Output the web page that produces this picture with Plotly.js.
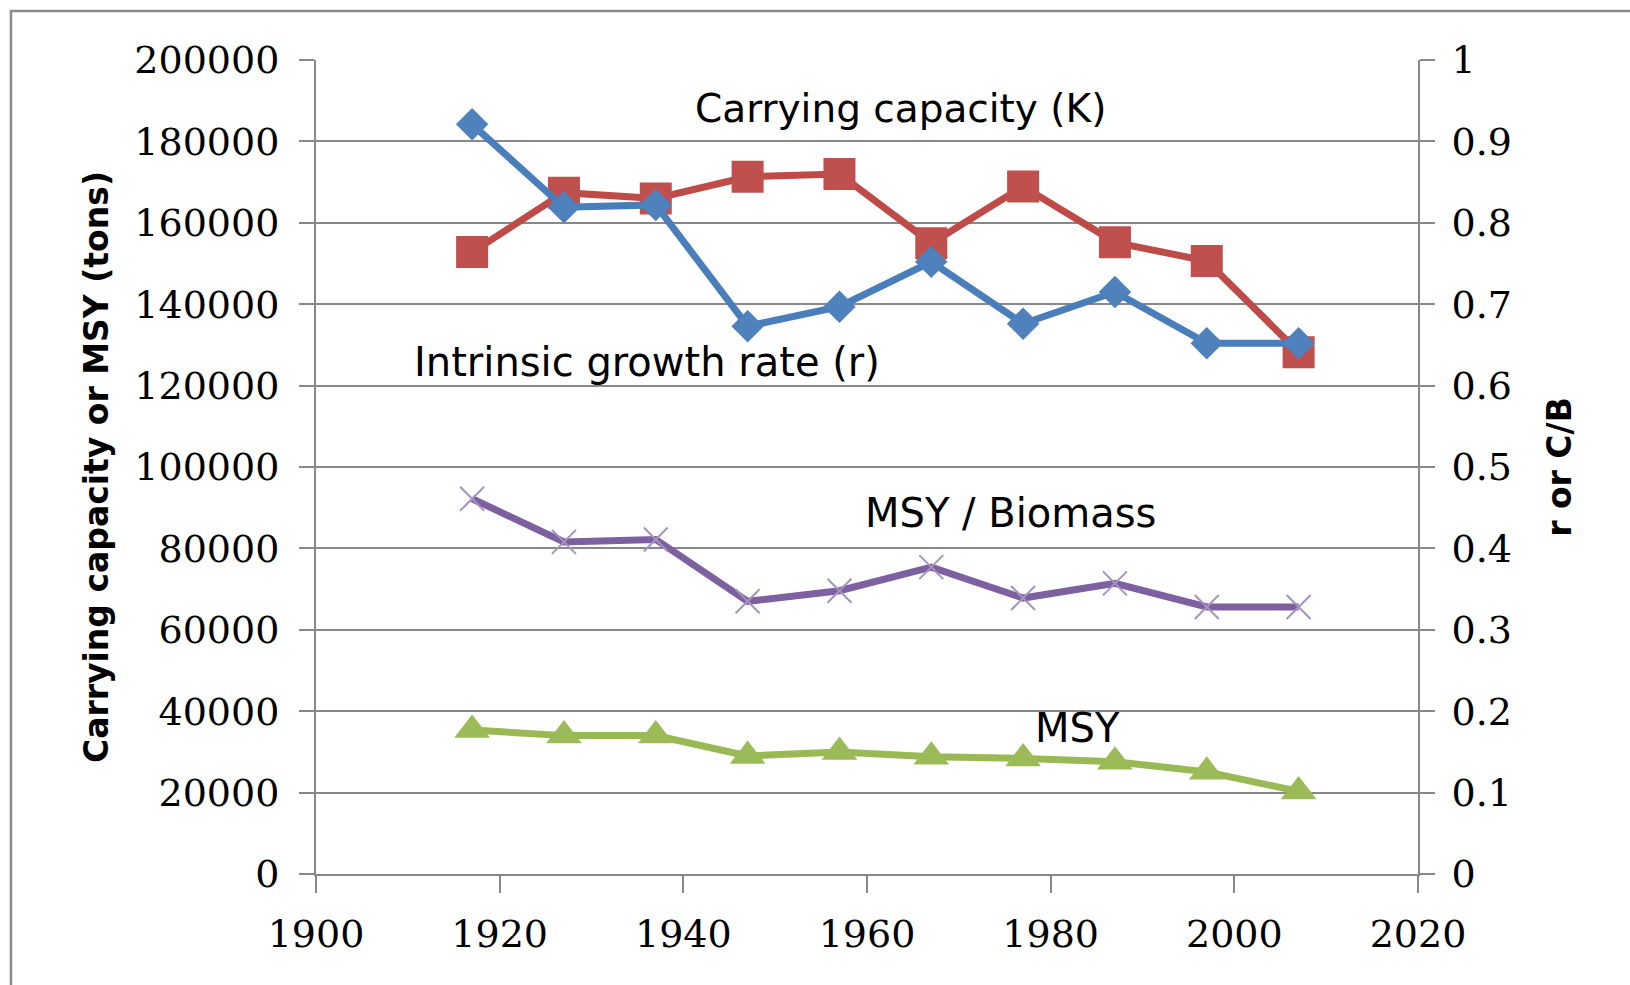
<!DOCTYPE html>
<html>
<head>
<meta charset="utf-8">
<script src="https://cdn.plot.ly/plotly-3.0.1.min.js"></script>
<style>
  html, body { margin: 0; padding: 0; background: #ffffff; }
  #chart { width: 1630px; height: 985px; }
</style>
</head>
<body>
<div id="chart"></div>
<script>
// ---- Data ----
const years = [1917, 1927, 1937, 1947, 1957, 1967, 1977, 1987, 1997, 2007];
const carryingCapacityK = [152800, 167400, 166000, 171300, 172000, 155000, 168900, 155200, 150600, 128200];
const intrinsicGrowthR = [0.921, 0.819, 0.822, 0.673, 0.697, 0.752, 0.676, 0.715, 0.652, 0.652];
const msyPerBiomass = [0.461, 0.408, 0.411, 0.335, 0.348, 0.377, 0.339, 0.357, 0.328, 0.328];
const msyTons = [35400, 34000, 34000, 29000, 30000, 28800, 28400, 27600, 25100, 20300];

const xTicks = [1900, 1920, 1940, 1960, 1980, 2000, 2020];
const leftTicks = [0, 20000, 40000, 60000, 80000, 100000, 120000, 140000, 160000, 180000, 200000];
const rightTicks = [0, 0.1, 0.2, 0.3, 0.4, 0.5, 0.6, 0.7, 0.8, 0.9, 1];
const rightTickText = ["0", "0.1", "0.2", "0.3", "0.4", "0.5", "0.6", "0.7", "0.8", "0.9", "1"];

const labelK = "Carrying capacity (K)";
const labelR = "Intrinsic growth rate (r)";
const labelCB = "MSY / Biomass";
const labelMSY = "MSY";
const leftTitle = "Carrying capacity or MSY (tons)";
const rightTitle = "r or C/B";

// ---- Styling ----
const FONT = "DejaVu Sans, Verdana, sans-serif";
const TICKFONT = "DejaVu Serif, Liberation Serif, serif";
const GRID = "#888888";

const traces = [
  {
    x: years, y: carryingCapacityK, yaxis: "y", type: "scatter", mode: "lines+markers",
    name: labelK,
    line: { color: "#BE4B48", width: 7 },
    marker: { symbol: "square", size: 32, color: "#C0504D", line: { width: 0 } }
  },
  {
    x: years, y: intrinsicGrowthR, yaxis: "y2", type: "scatter", mode: "lines+markers",
    name: labelR,
    line: { color: "#4A7EBB", width: 7 },
    marker: { symbol: "diamond", size: 25, color: "#4F81BD", line: { width: 0 } }
  },
  {
    x: years, y: msyPerBiomass, yaxis: "y2", type: "scatter", mode: "lines+markers",
    name: labelCB,
    line: { color: "#7D60A0", width: 7 },
    marker: { symbol: "x-thin-open", size: 24, color: "#A393C0", line: { width: 2, color: "#A393C0" } }
  },
  {
    x: years, y: msyTons, yaxis: "y", type: "scatter", mode: "lines+markers",
    name: labelMSY,
    line: { color: "#98B954", width: 7 },
    marker: { symbol: "triangle-up", size: 31, color: "#9BBB59", line: { width: 0 } }
  }
];

const layout = {
  width: 1630, height: 985,
  margin: { l: 316, r: 212, t: 60, b: 111, pad: 0 },
  paper_bgcolor: "#ffffff", plot_bgcolor: "#ffffff",
  showlegend: false,
  font: { family: FONT, size: 38, color: "#000000" },
  xaxis: {
    range: [1900, 2020], tickvals: xTicks, ticktext: xTicks.map(String),
    ticks: "outside", ticklen: 17, tickwidth: 2, tickcolor: GRID,
    showline: true, linecolor: GRID, linewidth: 2,
    showgrid: false, zeroline: false,
    ticklabelstandoff: 8,
    tickfont: { family: TICKFONT, size: 38, color: "#000" }
  },
  yaxis: {
    range: [0, 200000], tickvals: leftTicks, ticktext: leftTicks.map(String),
    ticks: "outside", ticklen: 15, tickwidth: 2, tickcolor: GRID,
    showline: true, linecolor: GRID, linewidth: 2,
    showgrid: true, gridcolor: GRID, gridwidth: 2, zeroline: false,
    ticklabelstandoff: 12,
    tickfont: { family: TICKFONT, size: 38, color: "#000" },
    title: { text: leftTitle, standoff: 16, font: { family: FONT, size: 33, color: "#000", weight: "bold" } }
  },
  yaxis2: {
    range: [0, 1], tickvals: rightTicks, ticktext: rightTickText,
    overlaying: "y", side: "right",
    ticks: "outside", ticklen: 15, tickwidth: 2, tickcolor: GRID,
    showline: true, linecolor: GRID, linewidth: 2,
    showgrid: false, zeroline: false,
    ticklabelstandoff: 9,
    tickfont: { family: TICKFONT, size: 38, color: "#000" },
    title: { text: rightTitle, standoff: 37, font: { family: FONT, size: 33, color: "#000", weight: "bold" } }
  },
  annotations: [
    { x: 1941.0, y: 188200, xref: "x", yref: "y", text: labelK, showarrow: false, xanchor: "left", yanchor: "middle", font: { family: FONT, size: 39, color: "#000" } },
    { x: 1910.4, y: 125900, xref: "x", yref: "y", text: labelR, showarrow: false, xanchor: "left", yanchor: "middle", font: { family: FONT, size: 40, color: "#000" } },
    { x: 1959.6, y: 88800, xref: "x", yref: "y", text: labelCB, showarrow: false, xanchor: "left", yanchor: "middle", font: { family: FONT, size: 40, color: "#000" } },
    { x: 1978.1, y: 35900, xref: "x", yref: "y", text: labelMSY, showarrow: false, xanchor: "left", yanchor: "middle", font: { family: FONT, size: 40, color: "#000" } }
  ],
  shapes: [
    { type: "rect", xref: "paper", yref: "paper", x0: -0.2768, x1: 1.21, y0: -0.16, y1: 1.0602,
      line: { color: "#8C8C8C", width: 2.5 }, fillcolor: "rgba(0,0,0,0)", layer: "below" }
  ]
};

Plotly.newPlot("chart", traces, layout, { staticPlot: true, displayModeBar: false });
</script>
</body>
</html>
